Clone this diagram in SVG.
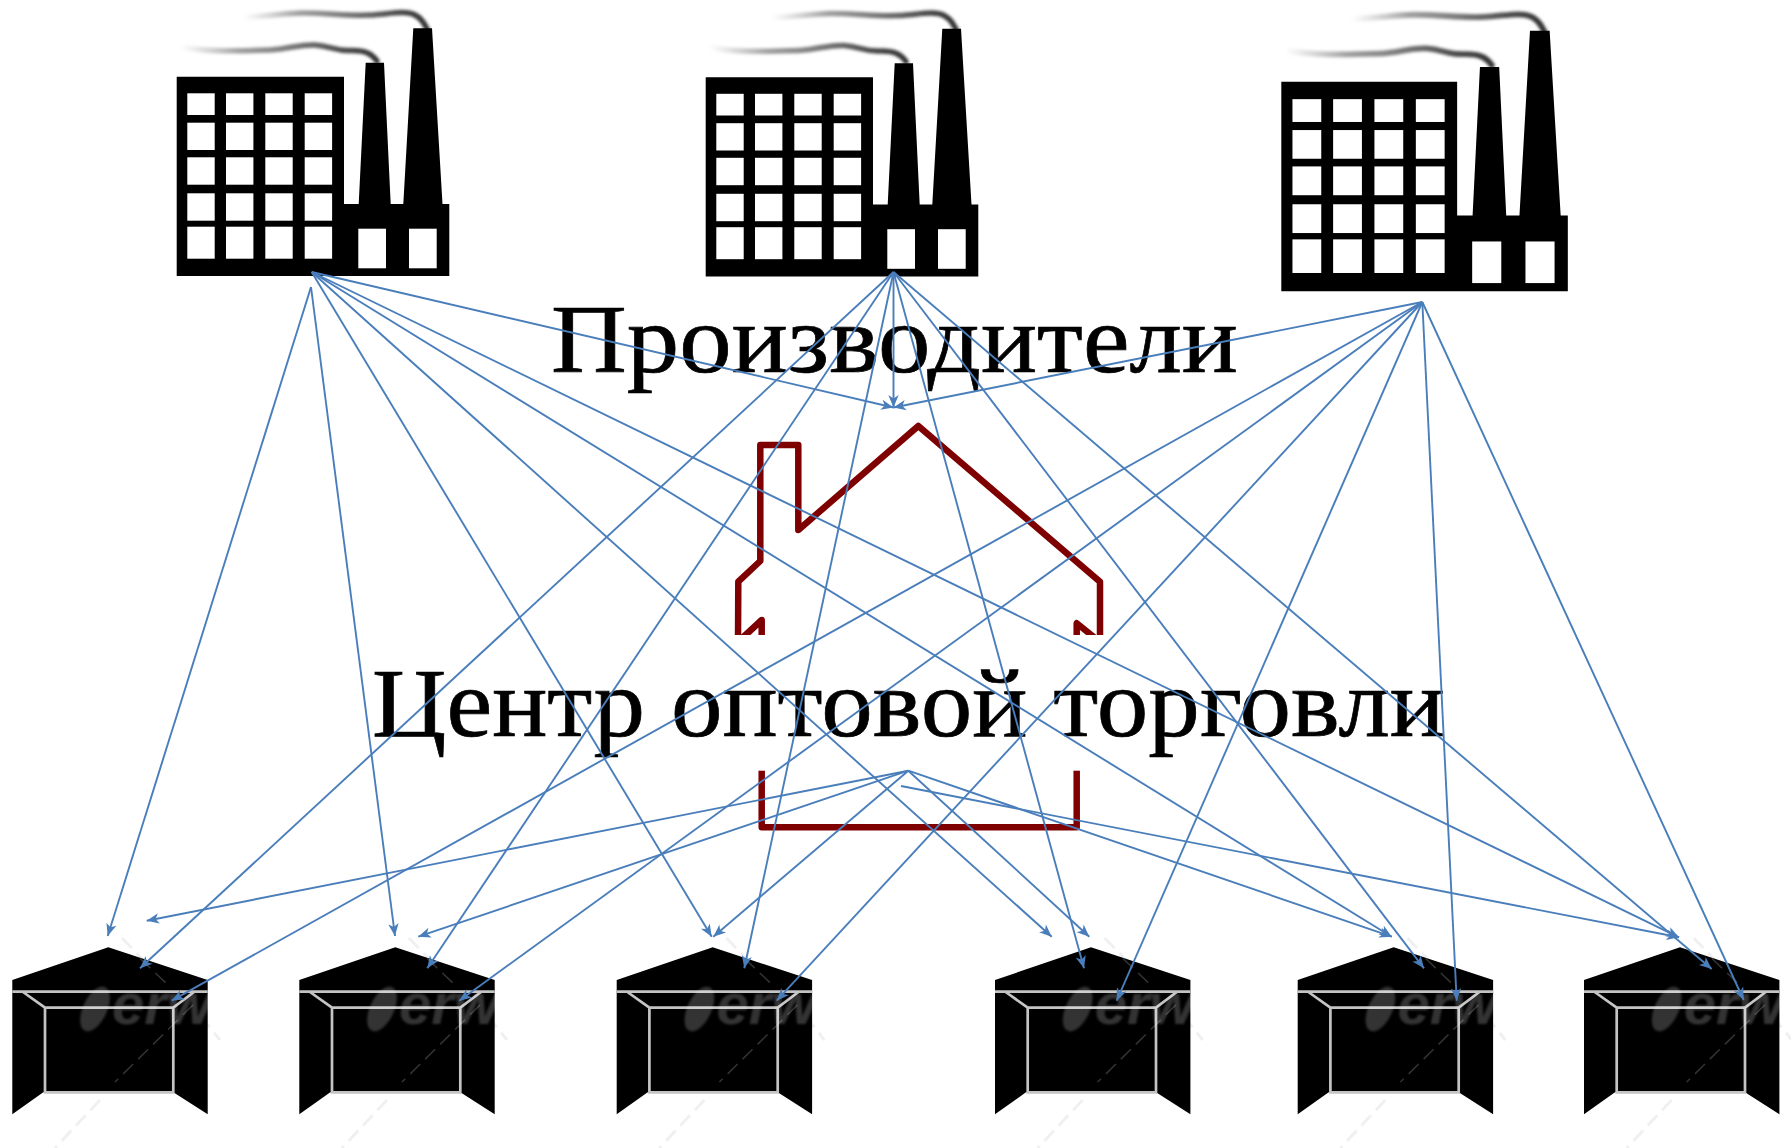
<svg xmlns="http://www.w3.org/2000/svg" xmlns:xlink="http://www.w3.org/1999/xlink" width="1791" height="1148" viewBox="0 0 1791 1148">
<style>
.cn{stroke:#4a7ebb;stroke-width:1.9;fill:none;marker-end:url(#arrow)}
.lbl{font-family:"Liberation Serif","Times New Roman",serif;font-size:98px;fill:#000;stroke:#000;stroke-width:.7}
.win{fill:#fff}
.smoke{fill:none;stroke-width:5.500;stroke-linecap:round;stroke:url(#smokeGrad);filter:url(#soft)}
.rib{fill:none;stroke:#c4c4c4;stroke-width:2.700}
.wm{fill:#fff;fill-opacity:.2}
.wmline{fill:none;stroke:#000;stroke-opacity:.06;stroke-width:3;stroke-dasharray:14 7}
.wmdark{fill:none;stroke:#fff;stroke-opacity:.2;stroke-width:1.5;stroke-dasharray:14 7}
.wmtxt{font-family:"Liberation Sans",Arial,sans-serif;font-size:58px;font-weight:700;font-style:italic;fill:#fff;fill-opacity:.2}
</style>
<defs>
<marker id="arrow" markerUnits="userSpaceOnUse" markerWidth="14" markerHeight="12" viewBox="-1 -5 13 10" refX="11" refY="0" orient="auto">
<path d="M11,0 L-0.5,-4.8 L2.6,0 L-0.5,4.8 Z" fill="#4a7ebb"/>
</marker>
<linearGradient id="smokeGrad" x1="0" x2="1" y1="0" y2="0">
<stop offset="0" stop-color="#999" stop-opacity="0"/>
<stop offset=".3" stop-color="#808080" stop-opacity=".75"/>
<stop offset=".8" stop-color="#444" stop-opacity=".95"/>
<stop offset="1" stop-color="#333"/>
</linearGradient>
<filter id="soft" x="-5%" y="-80%" width="110%" height="260%"><feGaussianBlur stdDeviation="1.500"/></filter>
<filter id="softer" x="-30%" y="-30%" width="160%" height="160%"><feGaussianBlur stdDeviation="1"/></filter>
<g id="factory">
<path class="smoke" d="M180,46.7 C205,52 240,51 270,50 C290,49 300,44 315,45 C330,46 335,51 350,50.500 C366,50 372,54 377,61"/>
<path class="smoke" d="M243,17 C270,16 285,13 303,13 C330,13 345,16 370,15 C390,14 405,10 415,15 C423,19 424,24 427,29"/>
<path fill="#000" d="M176.700,76.700 H344 V204 H358.700 L365.700,62.700 H384 L390.700,204 H403.300 L413.300,28.300 H432 L442.500,204 H449.300 V276 H176.700 Z"/>
<rect class="win" x="187.300" y="93.300" width="27.400" height="21.700"/><rect class="win" x="226" y="93.300" width="27.400" height="21.700"/><rect class="win" x="265.300" y="93.300" width="27.400" height="21.700"/><rect class="win" x="304.700" y="93.300" width="27.400" height="21.700"/>
<rect class="win" x="187.300" y="122.700" width="27.400" height="27.300"/><rect class="win" x="226" y="122.700" width="27.400" height="27.300"/><rect class="win" x="265.300" y="122.700" width="27.400" height="27.300"/><rect class="win" x="304.700" y="122.700" width="27.400" height="27.300"/>
<rect class="win" x="187.300" y="157.300" width="27.400" height="27.400"/><rect class="win" x="226" y="157.300" width="27.400" height="27.400"/><rect class="win" x="265.300" y="157.300" width="27.400" height="27.400"/><rect class="win" x="304.700" y="157.300" width="27.400" height="27.400"/>
<rect class="win" x="187.300" y="193.300" width="27.400" height="27.400"/><rect class="win" x="226" y="193.300" width="27.400" height="27.400"/><rect class="win" x="265.300" y="193.300" width="27.400" height="27.400"/><rect class="win" x="304.700" y="193.300" width="27.400" height="27.400"/>
<rect class="win" x="187.300" y="226.700" width="27.400" height="32"/><rect class="win" x="226" y="226.700" width="27.400" height="32"/><rect class="win" x="265.300" y="226.700" width="27.400" height="32"/><rect class="win" x="304.700" y="226.700" width="27.400" height="32"/>
<rect class="win" x="358.300" y="228.700" width="27.700" height="39.600"/><rect class="win" x="409" y="228.700" width="27.700" height="39.600"/>
</g>
<g id="tent">
<path class="wmline" d="M122,938 L172,990 M188,1000 L220,1040 M100,1100 L55,1148"/>
<path fill="#000" d="M12.300,980 L108.300,947.300 L207.700,980 V1114.300 L173.300,1092.300 H43.300 L12.300,1114.300 Z"/>
<path class="rib" d="M12.300,991.700 H207.700 M23,992 L45,1007.700 H173.300 L194,992 M45,1007.700 V1092.300 H173.300 V1007.700"/>
<path class="wmdark" d="M125,944 L168,985 M193,1005 L115,1082"/>
<ellipse class="wm" cx="95" cy="1009" rx="12" ry="24" transform="rotate(25 95 1009)" filter="url(#softer)"/>
<text class="wmtxt" x="112" y="1024" textLength="100" lengthAdjust="spacingAndGlyphs" filter="url(#softer)">erw</text>
</g>
</defs>
<rect width="1791" height="1148" fill="#fff"/>
<g id="factory-1"><use xlink:href="#factory" href="#factory"/></g>
<g id="factory-2"><use xlink:href="#factory" href="#factory" transform="translate(529 0.500)"/></g>
<g id="factory-3"><use xlink:href="#factory" href="#factory" transform="matrix(1.051 0 0 1.051 1095.600 1.100)"/></g>
<g id="wholesale-house">
<path fill="none" stroke="#7f0000" stroke-width="6.500" stroke-linejoin="round" d="M738,642 L738.300,581.700 L760.300,561 V445 H798.300 V530 L918.300,426 L1100,581.700 V642 L1076.700,623.300 V827.300 H761.700 V620 L738,642"/>
<rect x="730" y="635" width="380" height="135.700" fill="#fff"/>
</g>
<g id="tent-1"><use xlink:href="#tent" href="#tent"/></g>
<g id="tent-2"><use xlink:href="#tent" href="#tent" transform="translate(287 0)"/></g>
<g id="tent-3"><use xlink:href="#tent" href="#tent" transform="translate(604.400 0)"/></g>
<g id="tent-4"><use xlink:href="#tent" href="#tent" transform="translate(982.700 0)"/></g>
<g id="tent-5"><use xlink:href="#tent" href="#tent" transform="translate(1285.400 0)"/></g>
<g id="tent-6"><use xlink:href="#tent" href="#tent" transform="translate(1571.700 0)"/></g>
<g id="label-producers"><text class="lbl" x="551" y="371.700" textLength="687" lengthAdjust="spacingAndGlyphs">Производители</text></g>
<g id="label-wholesale"><text class="lbl" x="372" y="736" textLength="1073" lengthAdjust="spacingAndGlyphs">Центр оптовой торговли</text></g>
<g id="connectors">
<line class="cn" x1="311" y1="287" x2="107.700" y2="936"/>
<line class="cn" x1="311" y1="287" x2="395" y2="936"/>
<line class="cn" x1="311.700" y1="272" x2="711.700" y2="936.700"/>
<line class="cn" x1="311.700" y1="272" x2="1051.700" y2="936.700"/>
<line class="cn" x1="311.700" y1="272" x2="1391.700" y2="936.700"/>
<line class="cn" x1="311.700" y1="272" x2="1679" y2="937.300"/>
<line class="cn" x1="311.700" y1="272" x2="893.500" y2="407.500"/>
<line class="cn" x1="893.500" y1="272" x2="140" y2="968.300"/>
<line class="cn" x1="893.500" y1="272" x2="427.300" y2="968.300"/>
<line class="cn" x1="893.500" y1="272" x2="744.300" y2="968.300"/>
<line class="cn" x1="893.500" y1="272" x2="893.500" y2="407.500"/>
<line class="cn" x1="893.500" y1="272" x2="1084" y2="968.300"/>
<line class="cn" x1="893.500" y1="272" x2="1424" y2="968.300"/>
<line class="cn" x1="893.500" y1="272" x2="1711.700" y2="969"/>
<line class="cn" x1="1422.300" y1="302" x2="893.500" y2="407.500"/>
<line class="cn" x1="1422.300" y1="302" x2="171.700" y2="1000.700"/>
<line class="cn" x1="1422.300" y1="302" x2="459.300" y2="1000.700"/>
<line class="cn" x1="1422.300" y1="302" x2="776.700" y2="1000.700"/>
<line class="cn" x1="1422.300" y1="302" x2="1116.700" y2="1000.700"/>
<line class="cn" x1="1422.300" y1="302" x2="1456.700" y2="1000.700"/>
<line class="cn" x1="1422.300" y1="302" x2="1743.700" y2="1000"/>
<line class="cn" x1="908.300" y1="770.700" x2="146.700" y2="920.700"/>
<line class="cn" x1="908.300" y1="770.700" x2="418.300" y2="936.700"/>
<line class="cn" x1="908.300" y1="770.700" x2="713.300" y2="936.700"/>
<line class="cn" x1="908.300" y1="770.700" x2="1089.300" y2="936.700"/>
<line class="cn" x1="908.300" y1="770.700" x2="1391.700" y2="936.700"/>
<line class="cn" x1="901" y1="786" x2="1679" y2="937.300"/>
</g>
</svg>
